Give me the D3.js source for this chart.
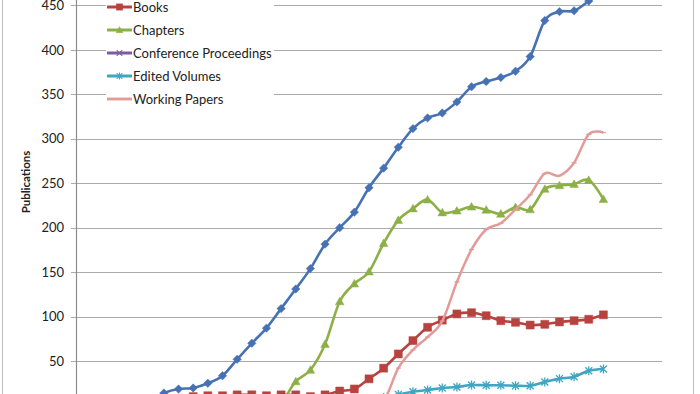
<!DOCTYPE html>
<html>
<head>
<meta charset="utf-8">
<script src="https://cdn.jsdelivr.net/npm/d3@7"></script>
<style>
  body { margin: 0; background: #fff; }
  svg { display: block; font-family: Lato, "Open Sans", sans-serif; }
</style>
</head>
<body>
<script>
// one category per period, the last four are empty on the axis
let periods = d3.range(41);

let articles = [0, 1, 1, 2, 3, 5, 14, 18.5, 19.7, 25, 33.5, 52, 70, 87, 109, 131, 154, 181.5, 200, 217.5,
                245, 267, 290.5, 311.5, 323.5, 329, 341.5, 358.5, 364.5, 369, 376, 392.5, 433, 443, 444, 455, 468];
let books = [1, 2, 3, 4, 5, 6, 7, 8, 10, 11, 11, 12, 12, 11, 12, 12, 10, 12, 16.3, 18.6,
             30, 42, 58, 73, 88, 96, 103, 104.4, 101, 95.4, 93.6, 90.5, 91.3, 94, 95.4, 97, 102];
let chapters = [null, null, null, null, null, null, null, null, null, null, 1, 2, 2, 3, 4, 27, 40, 69, 117, 137,
                150.5, 182.5, 208.5, 221.5, 231.5, 217, 219, 223.5, 220, 215.5, 223, 220.5, 243.5, 247.5, 249, 253.5, 232];
let proceedings = [null, null, null, null, null, null, null, null, null, null, null, null, null, null, null, null, null, null, 1, 1,
                   1, 2, 2, 3, 3, 3, 4, 4, 4, 5, 5, 5, 6, 6, 7, 7, 8];
let editedVolumes = [null, null, null, null, null, null, null, null, null, null, null, null, null, null, null, null, 1, 2, 3, 4,
                     6, 9, 12.5, 15.5, 17.4, 19.7, 20.8, 23, 22.7, 22.7, 22.3, 22.3, 26.4, 30.2, 32.4, 39, 41];
let workingPapers = [null, null, null, null, null, null, null, null, null, null, null, null, null, null, null, null, null, null, 0, 1,
                     2, 5, 42, 62.5, 77, 95, 139, 175.5, 198, 205, 220.5, 237, 261, 258.5, 273, 305, 307];

let yTicks = [50, 100, 150, 200, 250, 300, 350, 400, 450];

let series = [
    {name: "Articles", values: articles, color: "#4672B4", width: 2.6, marker: "diamond"},
    {name: "Books", values: books, color: "#B8423F", width: 2.6, marker: "square"},
    {name: "Chapters", values: chapters, color: "#8DB046", width: 2.6, marker: "triangle"},
    {name: "Conference Proceedings", values: proceedings, color: "#7B5CA0", width: 2.6, marker: "cross"},
    {name: "Edited Volumes", values: editedVolumes, color: "#3FA6C2", width: 2.6, marker: "star"},
    {name: "Working Papers", values: workingPapers, color: "#E39B99", width: 2.5, marker: "dash"}
];

let width = 700, height = 394;
let plot = {left: 76, right: 662, zero: 405.5, top: -39};

let svg = d3.select("body")
            .append("svg")
            .attr("width", width)
            .attr("height", height);

// outer chart border
svg.append("rect")
    .attr("x", 2.5).attr("y", -20)
    .attr("width", 691).attr("height", 460)
    .attr("fill", "none")
    .attr("stroke", "#bdbdbd");

let xScale = d3.scalePoint()
    .domain(periods)
    .range([plot.left, plot.right]);

let yScale = d3.scaleLinear()
    .domain([0, 500])
    .range([plot.zero, plot.top]);

// gridlines
svg.append("g")
    .selectAll("line")
    .data(yTicks)
    .enter()
    .append("line")
        .attr("x1", plot.left - 5)
        .attr("x2", plot.right)
        .attr("y1", d => Math.round(yScale(d)) + 0.5)
        .attr("y2", d => Math.round(yScale(d)) + 0.5)
        .attr("stroke", "#ababab")
        .attr("stroke-width", 1.2);

const yAxis = d3.axisLeft(yScale)
    .tickValues(yTicks)
    .tickSize(0)
    .tickPadding(12);

let yG = svg.append("g")
    .attr("transform", `translate(${plot.left},0)`)
    .call(yAxis);
yG.select(".domain").remove();
yG.selectAll("text")
    .attr("font-family", "Lato, 'Open Sans', sans-serif")
    .attr("font-size", 13)
    .attr("fill", "#222");

svg.append("line")
    .attr("x1", plot.left + 0.5).attr("x2", plot.left + 0.5)
    .attr("y1", 0).attr("y2", height)
    .attr("stroke", "#8c8c8c")
    .attr("stroke-width", 1.2);

svg.append("text")
    .attr("transform", "translate(30,182) rotate(-90)")
    .attr("text-anchor", "middle")
    .attr("font-size", 11.5)
    .attr("font-weight", "bold")
    .attr("fill", "#222")
    .text("Publications");

// markers
function markerPath(type) {
    if (type === "diamond") return "M0,-4.2L4.2,0L0,4.2L-4.2,0Z";
    if (type === "square") return "M-4,-4H4V4H-4Z";
    if (type === "triangle") return "M0,-4.3L4.3,3.3L-4.3,3.3Z";
    if (type === "cross") return "M-3.5,-3.5L3.5,3.5M-3.5,3.5L3.5,-3.5";
    if (type === "star") return "M-3.5,-3.5L3.5,3.5M-3.5,3.5L3.5,-3.5M0,-4.5L0,4.5";
    return "M-2.5,0L2.5,0";
}
function strokeMarker(type) {
    return type === "cross" || type === "star" || type === "dash";
}

const line = d3.line()
    .defined(d => d.v !== null)
    .x(d => xScale(d.i))
    .y(d => yScale(d.v))
    .curve(d3.curveCatmullRom.alpha(0));

series.forEach(s => {
    let pts = s.values.map((v, i) => ({i: i, v: v}));
    let g = svg.append("g");
    g.append("path")
        .datum(pts)
        .attr("d", line)
        .attr("fill", "none")
        .attr("stroke", s.color)
        .attr("stroke-width", s.width);
    g.selectAll("path.m")
        .data(pts.filter(d => d.v !== null))
        .enter()
        .append("path")
            .attr("class", "m")
            .attr("transform", d => `translate(${xScale(d.i)},${yScale(d.v)})`)
            .attr("d", markerPath(s.marker))
            .attr("fill", strokeMarker(s.marker) ? "none" : s.color)
            .attr("stroke", s.color)
            .attr("stroke-width", strokeMarker(s.marker) ? 1.3 : 0.5);
});

// legend, its top entry is outside the picture
let legend = svg.append("g");
legend.append("rect")
    .attr("x", 106).attr("y", -30)
    .attr("width", 168).attr("height", 142)
    .attr("fill", "#fff");

let items = legend.selectAll("g.item")
    .data(series)
    .enter()
    .append("g")
        .attr("class", "item")
        .attr("transform", (d, i) => `translate(107,${7 + (i - 1) * 23})`);
items.append("line")
    .attr("x1", 0).attr("x2", 25)
    .attr("stroke", d => d.color)
    .attr("stroke-width", d => d.width + 0.4);
items.append("path")
    .attr("transform", "translate(12.5,0) scale(0.8)")
    .attr("d", d => markerPath(d.marker))
    .attr("fill", d => strokeMarker(d.marker) ? "none" : d.color)
    .attr("stroke", d => d.color)
    .attr("stroke-width", d => strokeMarker(d.marker) ? 1.3 : 0.5);
items.append("text")
    .attr("x", 26)
    .attr("dy", "0.35em")
    .attr("font-size", 13)
    .attr("fill", "#222")
    .text(d => d.name);
</script>
</body>
</html>
